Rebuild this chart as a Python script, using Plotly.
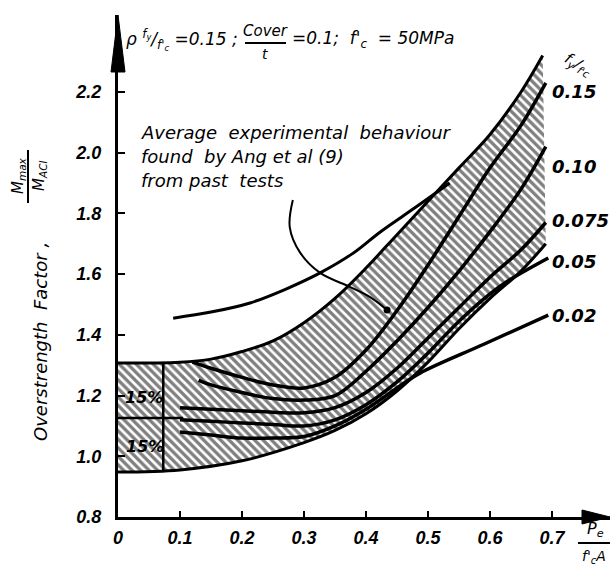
import plotly.graph_objects as go

# ---------------- data ----------------
band_top_x = [0.0, 0.10, 0.15, 0.20, 0.25, 0.30, 0.35, 0.40, 0.45, 0.50, 0.55, 0.60, 0.65, 0.685]
band_top_y = [1.307, 1.31, 1.32, 1.345, 1.38, 1.44, 1.52, 1.62, 1.73, 1.84, 1.95, 2.06, 2.20, 2.32]
band_bot_x = [0.0, 0.10, 0.20, 0.30, 0.35, 0.40, 0.45, 0.50, 0.55, 0.60, 0.65, 0.69]
band_bot_y = [0.948, 0.955, 0.985, 1.045, 1.085, 1.14, 1.215, 1.31, 1.42, 1.52, 1.61, 1.70]

curve_labels = ["0.15", "0.10", "0.075", "0.05", "0.02"]
c015_x = [0.12, 0.15, 0.20, 0.25, 0.30, 0.35, 0.40, 0.45, 0.50, 0.55, 0.60, 0.65, 0.69]
c015_y = [1.31, 1.29, 1.26, 1.235, 1.225, 1.26, 1.35, 1.48, 1.63, 1.79, 1.95, 2.09, 2.23]
c010_x = [0.13, 0.15, 0.20, 0.25, 0.30, 0.35, 0.40, 0.45, 0.50, 0.55, 0.60, 0.65, 0.69]
c010_y = [1.25, 1.235, 1.21, 1.19, 1.185, 1.20, 1.28, 1.38, 1.49, 1.61, 1.74, 1.88, 2.02]
c0075_x = [0.10, 0.15, 0.20, 0.25, 0.30, 0.35, 0.40, 0.45, 0.50, 0.55, 0.60, 0.65, 0.69]
c0075_y = [1.16, 1.155, 1.15, 1.145, 1.143, 1.16, 1.21, 1.29, 1.39, 1.49, 1.59, 1.68, 1.77]
c005_x = [0.10, 0.15, 0.20, 0.25, 0.30, 0.35, 0.40, 0.45, 0.50, 0.55, 0.60, 0.627, 0.694]
c005_y = [1.12, 1.115, 1.11, 1.105, 1.10, 1.12, 1.17, 1.245, 1.34, 1.445, 1.535, 1.575, 1.653]
c002_x = [0.10, 0.15, 0.20, 0.25, 0.30, 0.35, 0.40, 0.45, 0.487, 0.59, 0.694]
c002_y = [1.08, 1.07, 1.06, 1.06, 1.065, 1.10, 1.155, 1.225, 1.274, 1.369, 1.465]
label_y = [2.20, 1.953, 1.775, 1.64, 1.465]

avg_x = [0.089, 0.15, 0.213, 0.27, 0.326, 0.38, 0.423, 0.48, 0.535]
avg_y = [1.455, 1.475, 1.505, 1.55, 1.604, 1.67, 1.739, 1.82, 1.90]

leader_x = [0.282, 0.277, 0.294, 0.326, 0.374, 0.406, 0.434]
leader_y = [1.844, 1.755, 1.67, 1.604, 1.558, 1.525, 1.482]

box_div_x = 0.073      # end of the constant +/-15 % block
box_mid_y = 1.126      # mean value of the block
box_mid_end = 0.105

x_ticks = [0, 0.1, 0.2, 0.3, 0.4, 0.5, 0.6, 0.7]
x_tick_text = ["0", "0.1", "0.2", "0.3", "0.4", "0.5", "0.6", "0.7"]
y_ticks = [0.8, 1.0, 1.2, 1.4, 1.6, 1.8, 2.0, 2.2]
y_tick_text = ["0.8", "1.0", "1.2", "1.4", "1.6", "1.8", "2.0", "2.2"]

# ---------------- figure ----------------
W, H = 613, 571
ML, MR, MT, MB = 118, 3, 15, 54
PW, PH = W - ML - MR, H - MT - MB
XMAX = PW / 620.0
YMAX = 0.8 + PH / 303.6


def px(x):
    return (x - ML) / PW


def py(y):
    return (H - MB - y) / PH


TXT = dict(family="DejaVu Sans", size=17, color="black", style="italic")
BOLD = dict(family="Liberation Sans", size=18, color="black", style="italic", weight="bold")
LAB = dict(family="DejaVu Sans", size=18, color="black", style="italic", weight="bold")

fig = go.Figure()


def note(x, y, text, font, xanchor="center", yanchor="middle", angle=0):
    fig.add_annotation(xref="paper", yref="paper", x=px(x), y=py(y), text=text, showarrow=False,
                       xanchor=xanchor, yanchor=yanchor, textangle=angle, font=font)


# hatched band
fig.add_trace(go.Scatter(
    x=band_top_x + band_bot_x[::-1], y=band_top_y + band_bot_y[::-1],
    mode="lines", fill="toself", line=dict(width=0, color="rgba(0,0,0,0)"),
    fillcolor="white",
    fillpattern=dict(shape="\\", size=6, solidity=0.55, fgcolor="black", bgcolor="white"),
    hoverinfo="skip", showlegend=False))

for xs, ys in [(band_top_x, band_top_y), (band_bot_x, band_bot_y)]:
    fig.add_trace(go.Scatter(x=xs, y=ys, mode="lines", line=dict(color="black", width=3, shape="spline"),
                             showlegend=False, hoverinfo="skip"))

# block lines
fig.add_trace(go.Scatter(x=[box_div_x, box_div_x], y=[band_bot_y[0], band_top_y[0]], mode="lines",
                         line=dict(color="black", width=2.5), showlegend=False))
fig.add_trace(go.Scatter(x=[0, box_mid_end], y=[box_mid_y, box_mid_y], mode="lines",
                         line=dict(color="black", width=2.5), showlegend=False))

curves = [(c015_x, c015_y), (c010_x, c010_y), (c0075_x, c0075_y), (c005_x, c005_y), (c002_x, c002_y)]
for (xs, ys), lab in zip(curves, curve_labels):
    fig.add_trace(go.Scatter(x=xs, y=ys, mode="lines", name=lab,
                             line=dict(color="black", width=3.5, shape="spline"), showlegend=False))

for lab, ly in zip(curve_labels, label_y):
    fig.add_annotation(x=0.697, y=ly, text=lab, showarrow=False, xanchor="left", yanchor="middle", font=LAB)

# average experimental line + leader
fig.add_trace(go.Scatter(x=avg_x, y=avg_y, mode="lines", line=dict(color="black", width=3, shape="spline"),
                         showlegend=False))
fig.add_trace(go.Scatter(x=leader_x, y=leader_y, mode="lines", line=dict(color="black", width=2, shape="spline"),
                         showlegend=False))
fig.add_trace(go.Scatter(x=[leader_x[-1]], y=[leader_y[-1]], mode="markers",
                         marker=dict(color="black", size=7), showlegend=False))

# texts
for t, yy in [("Average  experimental  behaviour", 132), ("found  by Ang et al (9)", 157), ("from past  tests", 180)]:
    note(139, yy, t, dict(TXT, size=18), xanchor="left")

note(144, 397, "15%", dict(TXT, size=16, weight="bold"))
note(145, 446, "15%", dict(TXT, size=16, weight="bold"))

# title
note(124, 40, "ρ <sup>f<sub>y</sub></sup>/<sub>f'<sub>c</sub></sub> =0.15 ;", dict(TXT, size=17), xanchor="left")
note(265, 31, "Cover", dict(TXT, size=15))
note(265, 54, "t", dict(TXT, size=14))
note(290, 40, "=0.1;  f'<sub>c</sub>  = 50MPa", dict(TXT, size=17), xanchor="left")

# right header
note(578, 64, "f<sub>y</sub>/<sub>f'c</sub>", dict(TXT, size=15), angle=30)

# y title
note(40, 342, "Overstrength  Factor ,", dict(TXT, size=18), angle=-90)
note(18, 176, "M<sub>max</sub>", dict(TXT, size=15), angle=-90)
note(39, 176, "M<sub>ACI</sub>", dict(TXT, size=15), angle=-90)

# x title
note(595, 529, "P<sub>e</sub>", dict(TXT, size=16))
note(594, 557, "f'<sub>c</sub>A", dict(TXT, size=14))

shapes = [
    # y-axis arrow head
    dict(type="path", xref="paper", yref="paper",
         path=f"M {px(111)},{py(72)} L {px(118)},{py(15)} L {px(125)},{py(72)} Z",
         fillcolor="black", line=dict(color="black", width=1)),
    # x-axis arrow head
    dict(type="path", xref="paper", yref="paper",
         path=f"M {px(582)},{py(510)} L {px(610)},{py(517)} L {px(582)},{py(524)} Z",
         fillcolor="black", line=dict(color="black", width=1)),
    # fraction bars
    dict(type="line", xref="paper", yref="paper", x0=px(28), x1=px(28), y0=py(150), y1=py(203),
         line=dict(color="black", width=2)),
    dict(type="line", xref="paper", yref="paper", x0=px(245), x1=px(286), y0=py(43), y1=py(43),
         line=dict(color="black", width=2)),
    dict(type="line", xref="paper", yref="paper", x0=px(578), x1=px(610), y0=py(543), y1=py(543),
         line=dict(color="black", width=2)),
]

fig.update_layout(
    width=W, height=H, margin=dict(l=ML, r=MR, t=MT, b=MB),
    paper_bgcolor="white", plot_bgcolor="white", showlegend=False, shapes=shapes,
    xaxis=dict(range=[0, XMAX], tickvals=x_ticks, ticktext=x_tick_text, ticks="inside", ticklen=6,
               tickwidth=2, tickcolor="black", showline=True, linewidth=3, linecolor="black",
               showgrid=False, zeroline=False, tickfont=BOLD, ticklabelstandoff=2, fixedrange=True),
    yaxis=dict(range=[0.8, YMAX], tickvals=y_ticks, ticktext=y_tick_text, ticks="inside", ticklen=7,
               tickwidth=2, tickcolor="black", showline=True, linewidth=3, linecolor="black",
               showgrid=False, zeroline=False, tickfont=BOLD, ticklabelstandoff=10, fixedrange=True),
)

fig.write_html("out.html")
